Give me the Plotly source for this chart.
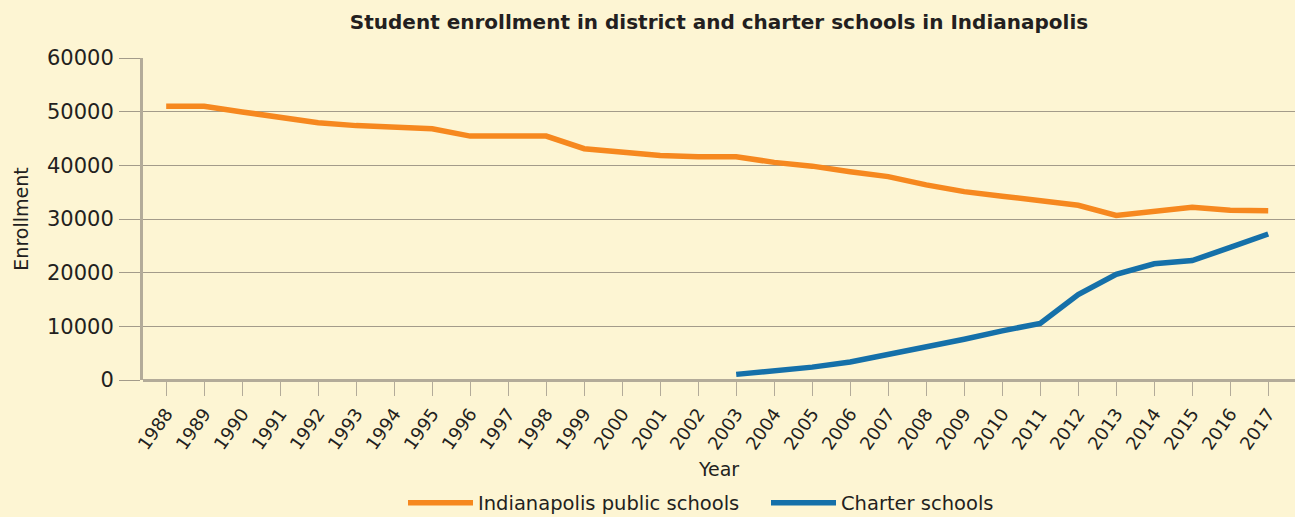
import plotly.graph_objects as go

years = list(range(1988, 2018))
ips_enrollment = [51000, 51000, 49950, 48950, 47950, 47400, 47100, 46800, 45450, 45450,
                  45450, 43100, 42350, 41850, 41600, 41600, 40550, 39850, 38800, 37900,
                  36350, 35100, 34250, 33500, 32550, 30650, 31350, 32200, 31650, 31550]
charter_years = list(range(2003, 2018))
charter_enrollment = [1050, 1700, 2400, 3350, 4700, 6100, 7600, 9150, 10550, 15900,
                      19700, 21650, 22250, 24700, 27200]
y_ticks = [0, 10000, 20000, 30000, 40000, 50000, 60000]
y_tick_labels = ["0", "10000", "20000", "30000", "40000", "50000", "60000"]

BG = "#FDF5D3"
TXT = "#231F20"
GRID = "#A39B8A"
FONT = "DejaVu Sans"

fig = go.Figure()
fig.add_trace(go.Scatter(x=years, y=ips_enrollment, mode="lines",
                         name="Indianapolis public schools",
                         line=dict(color="#F6881F", width=5.5)))
fig.add_trace(go.Scatter(x=charter_years, y=charter_enrollment, mode="lines",
                         name="Charter schools",
                         line=dict(color="#1570A9", width=5.5)))

fig.update_layout(
    width=1295, height=517,
    paper_bgcolor=BG, plot_bgcolor=BG,
    margin=dict(l=143, r=0, t=58, b=137),
    font=dict(family=FONT, color=TXT, size=19),
    title=dict(text="<b>Student enrollment in district and charter schools in Indianapolis</b>",
               xref="paper", x=0.5, xanchor="center", y=1 - 22 / 517, yanchor="middle",
               font=dict(family=FONT, size=20, color=TXT)),
    showlegend=True,
    legend=dict(orientation="h", xref="paper", x=0.2257, xanchor="left",
                yref="container", y=1 - 503 / 517, yanchor="middle",
                itemwidth=65, entrywidth=283, font=dict(size=19.5, color=TXT),
                bgcolor="rgba(0,0,0,0)", traceorder="normal"),
    xaxis=dict(range=[1987.39, 2017.705], tickmode="array", tickvals=years,
               ticktext=[str(y) for y in years], tickangle=-55,
               ticks="outside", ticklen=15, tickwidth=1.3, tickcolor="#B3AB99",
               showgrid=False, zeroline=False, showline=False,
               tickfont=dict(size=18, color=TXT),
               title=dict(text="Year", font=dict(size=19, color=TXT), standoff=10)),
    yaxis=dict(range=[0, 60000], tickmode="array", tickvals=y_ticks,
               ticktext=y_tick_labels,
               ticks="outside", ticklen=21, tickwidth=1.3, tickcolor=GRID,
               showgrid=True, gridcolor=GRID, gridwidth=1.3,
               zeroline=True, zerolinecolor="#B3AB99", zerolinewidth=3,
               showline=True, linecolor="#B3AB99", linewidth=3,
               ticklabelstandoff=1,
               tickfont=dict(size=21, color=TXT),
               title=dict(text="Enrollment", font=dict(size=19, color=TXT), standoff=14)),
)

fig.write_html("out.html", config={"displayModeBar": False},
               post_script="document.body.style.margin='0';")
